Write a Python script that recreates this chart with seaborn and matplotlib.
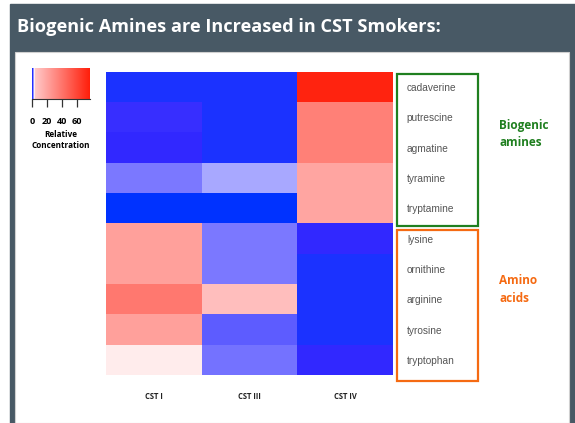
import numpy as np
import pandas as pd
import matplotlib
matplotlib.use("Agg")
import matplotlib.pyplot as plt
from matplotlib.colors import LinearSegmentedColormap
from matplotlib.patches import Rectangle
import seaborn as sns

# ---- data -------------------------------------------------------------
metabolites = ["cadaverine", "putrescine", "agmatine", "tyramine", "tryptamine",
               "lysine", "ornithine", "arginine", "tyrosine", "tryptophan"]
groups = ["CST I", "CST III", "CST IV"]
cst_i = [0.5, 1.1, 1.0, 1.75, 0.0, 21.6, 21.6, 38.6, 21.6, 3.4]
cst_iii = [0.5, 0.5, 0.5, 2.2, 0.0, 1.8, 1.8, 8.8, 1.5, 1.72]
cst_iv = [74.9, 35.2, 35.2, 19.4, 19.4, 1.0, 0.5, 0.5, 0.5, 1.0]
cbar_ticks = [0, 20, 40, 60]
vmax = 77

df = pd.DataFrame({"CST I": cst_i, "CST III": cst_iii, "CST IV": cst_iv},
                  index=metabolites)

# blue -> white -> red scale for relative concentration
stops = [(0.0, "#0032ff"), (0.5, "#1e32ff"), (1.0, "#3228ff"), (1.5, "#6464ff"),
         (1.75, "#7d7aff"), (2.2, "#aaaaff"), (2.8, "#ffffff"), (4.5, "#ffc8c8"),
         (77.0, "#ff1e0a")]
cmap = LinearSegmentedColormap.from_list(
    "conc", [(v / vmax, c) for v, c in stops], N=1024)

# ---- figure ------------------------------------------------------------
W, H = 575, 423
fig = plt.figure(figsize=(W / 100, H / 100), dpi=100)
fig.patch.set_facecolor("white")


def fbox(x0, y0, x1, y1):
    """pixel box (top-left origin) -> figure fraction rect"""
    return [x0 / W, 1 - y1 / H, (x1 - x0) / W, (y1 - y0) / H]


# slide frame and title bar
fig.patches.append(Rectangle((10 / W, 0), 1 - 10 / W, 1 - 4 / H,
                             transform=fig.transFigure, color="#485965",
                             zorder=-3))
fig.patches.append(Rectangle((15 / W, 0), (569 - 15) / W, 1 - 52 / H,
                             transform=fig.transFigure, facecolor="white",
                             edgecolor="#d0d0d0", lw=0.8, zorder=-2))
fig.text(17 / W, 1 - 27 / H, "Biogenic Amines are Increased in CST Smokers:",
         color="white", fontsize=13.1, fontweight="bold", family="Open Sans",
         va="center", ha="left")

# heatmap + colourbar
ax = fig.add_axes(fbox(106, 71.7, 393, 375))
cax = fig.add_axes(fbox(32, 68, 89.7, 99))
sns.heatmap(df, ax=ax, cmap=cmap, vmin=0, vmax=vmax, linewidths=0,
            cbar_ax=cax,
            cbar_kws={"orientation": "horizontal", "ticks": cbar_ticks})

ax.set_xticklabels(groups, fontsize=5.5, fontweight="bold", family="Open Sans",
                   color="#222222")
ax.tick_params(axis="x", length=0, pad=12)
ax.yaxis.tick_right()
ax.set_yticklabels(metabolites, rotation=0, fontsize=7.3,
                   family="Liberation Sans", color="#555555", ha="left")
ax.tick_params(axis="y", length=0, pad=10)
ax.set_xlabel("")
ax.set_ylabel("")

cax.tick_params(axis="x", length=5.5, width=0.9, color="#333333", pad=7.5,
                labelsize=6.6)
for lab in cax.get_xticklabels():
    lab.set_fontweight("bold")
    lab.set_family("Open Sans")
cax.set_xlabel("Relative\nConcentration", fontsize=5.9, fontweight="bold",
               family="Open Sans", labelpad=2.5, linespacing=1.35)
cax.spines["bottom"].set_visible(True)
cax.spines["bottom"].set_color("#333333")
cax.spines["bottom"].set_linewidth(0.8)

# group boxes and labels
green = "#1f7f1f"
orange = "#f56a12"
for (y0, y1, col) in [(74, 225.7, green), (230, 381, orange)]:
    fig.patches.append(Rectangle((397 / W, 1 - y1 / H), (478 - 397) / W,
                                 (y1 - y0) / H, transform=fig.transFigure,
                                 fill=False, edgecolor=col, lw=1.6, zorder=5))
fig.text(499 / W, 1 - 134 / H, "Biogenic\namines", color=green, fontsize=8.5,
         fontweight="bold", family="Open Sans", va="center", ha="left",
         linespacing=1.5)
fig.text(499 / W, 1 - 290 / H, "Amino\nacids", color=orange, fontsize=8.5,
         fontweight="bold", family="Open Sans", va="center", ha="left",
         linespacing=1.5)

fig.savefig("out.png", dpi=100)
